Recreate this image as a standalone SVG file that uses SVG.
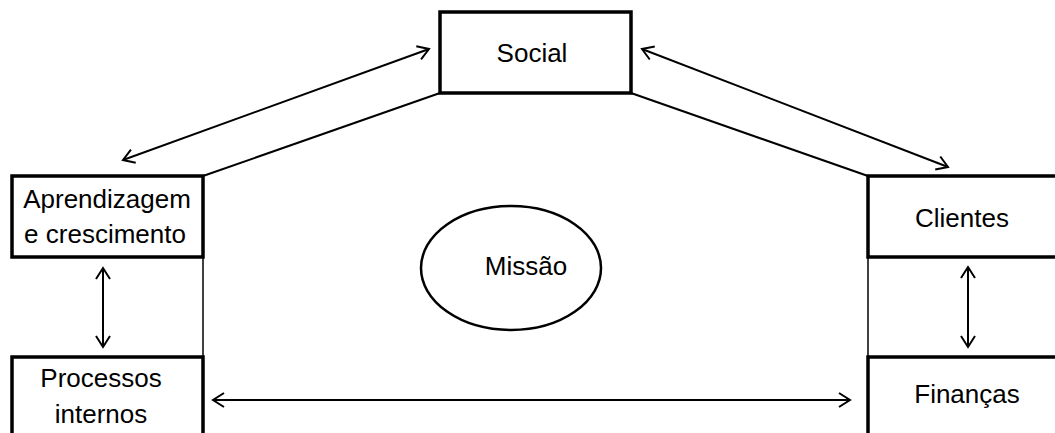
<svg xmlns="http://www.w3.org/2000/svg" width="1055" height="433" viewBox="0 0 1055 433">
  <style>
    .box { fill: #fff; stroke: #000; stroke-width: 3.5; }
    .lbl { font-family: "Liberation Sans", Arial, sans-serif; font-size: 26px; fill: #000; text-anchor: middle; }
    .roof { fill: none; stroke: #000; stroke-width: 2; }
    .wall { fill: none; stroke: #000; stroke-width: 1.5; }
    .arrow { fill: none; stroke: #000; stroke-width: 2; marker-start: url(#head); marker-end: url(#head); }
  </style>
  <defs>
    <!-- open chevron arrowhead; tip sits on the line end -->
    <marker id="head" viewBox="-14 -9 16 18" refX="0" refY="0" markerWidth="16" markerHeight="18" markerUnits="userSpaceOnUse" orient="auto-start-reverse">
      <path d="M-11,-7 L0,0 L-11,7" fill="none" stroke="#000" stroke-width="2"/>
    </marker>
  </defs>

  <!-- house outline: roof slopes and thin side walls -->
  <g id="house">
    <path class="roof" d="M440,93 L203,176"/>
    <path class="roof" d="M631,93 L868,176"/>
    <path class="wall" d="M203,257 L203,357"/>
    <path class="wall" d="M868,257 L868,357"/>
  </g>

  <g id="social">
    <rect class="box" x="440" y="12" width="191" height="81"/>
    <text class="lbl" x="532" y="62">Social</text>
  </g>

  <g id="aprendizagem">
    <rect class="box" x="12" y="176" width="191" height="81"/>
    <text class="lbl" x="107" y="208">Aprendizagem</text>
    <text class="lbl" x="105" y="243">e crescimento</text>
  </g>

  <g id="processos">
    <rect class="box" x="12" y="357" width="191" height="90"/>
    <text class="lbl" x="101" y="387">Processos</text>
    <text class="lbl" x="101" y="423">internos</text>
  </g>

  <g id="clientes">
    <rect class="box" x="868" y="176" width="200" height="81"/>
    <text class="lbl" x="962" y="227">Clientes</text>
  </g>

  <g id="financas">
    <rect class="box" x="868" y="357" width="200" height="90"/>
    <text class="lbl" x="967" y="403">Finanças</text>
  </g>

  <g id="missao">
    <ellipse cx="511" cy="268" rx="90" ry="62" fill="#fff" stroke="#000" stroke-width="2.5"/>
    <text class="lbl" x="526" y="275">Missão</text>
  </g>

  <g id="connectors">
    <line class="arrow" x1="123" y1="160" x2="429" y2="49"/>
    <line class="arrow" x1="642" y1="49" x2="948" y2="167"/>
    <line class="arrow" x1="103" y1="268" x2="103" y2="347"/>
    <line class="arrow" x1="968" y1="267" x2="968" y2="347"/>
    <line class="arrow" x1="213" y1="400" x2="850" y2="400"/>
  </g>
</svg>
